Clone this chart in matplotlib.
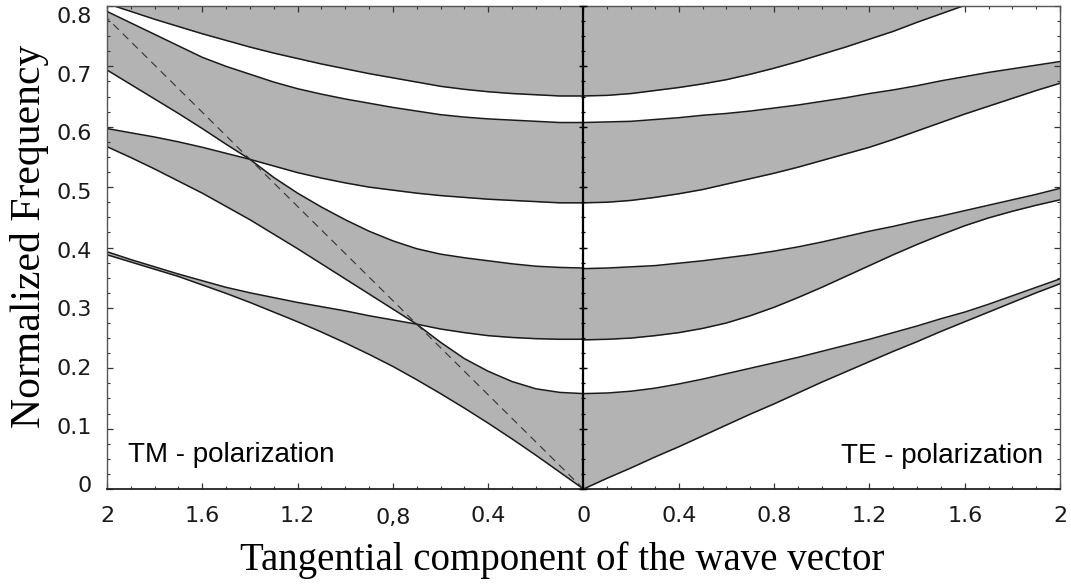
import matplotlib
matplotlib.use("Agg")

import matplotlib.pyplot as plt
import matplotlib.transforms as mtransforms
import numpy as np

# tangential wave vector, both polarizations read on the same grid
k = [0.0, 0.1, 0.2, 0.3, 0.4, 0.5, 0.6, 0.7, 0.8, 0.9, 1.0,
     1.1, 1.2, 1.3, 1.4, 1.5, 1.6, 1.7, 1.8, 1.9, 2.0]

# TM band edges (left half)
tm_a = [0.0, 0.028, 0.056, 0.083, 0.109, 0.134, 0.158, 0.181, 0.203, 0.223, 0.242,
        0.260, 0.277, 0.293, 0.309, 0.324, 0.338, 0.352, 0.364, 0.376, 0.388]
tm_b = [0.248, 0.248, 0.249, 0.251, 0.254, 0.259, 0.265, 0.273, 0.280, 0.287, 0.295,
        0.302, 0.309, 0.317, 0.325, 0.334, 0.345, 0.356, 0.368, 0.380, 0.393]
tm_c = [0.158, 0.160, 0.166, 0.178, 0.195, 0.216, 0.243, 0.273, 0.298, 0.323, 0.348,
        0.373, 0.398, 0.422, 0.446, 0.468, 0.490, 0.510, 0.530, 0.549, 0.567]
tm_g = [0.366, 0.367, 0.369, 0.373, 0.378, 0.383, 0.389, 0.398, 0.411, 0.427, 0.446,
        0.467, 0.490, 0.516, 0.546, 0.571, 0.597, 0.622, 0.646, 0.670, 0.694]
tm_d = [0.474, 0.474, 0.476, 0.478, 0.480, 0.483, 0.486, 0.490, 0.495, 0.500, 0.507,
        0.515, 0.524, 0.535, 0.546, 0.556, 0.566, 0.575, 0.583, 0.590, 0.597]
tm_f = [0.607, 0.607, 0.609, 0.611, 0.613, 0.616, 0.620, 0.626, 0.632, 0.639, 0.646,
        0.654, 0.663, 0.674, 0.687, 0.700, 0.715, 0.734, 0.753, 0.772, 0.791]
tm_e = [0.651, 0.651, 0.653, 0.655, 0.658, 0.662, 0.667, 0.674, 0.681, 0.688, 0.696,
        0.704, 0.713, 0.722, 0.732, 0.743, 0.754, 0.766, 0.778, 0.791, 0.804]

# TE band edges (right half)
te_a = [0.0, 0.018, 0.035, 0.053, 0.070, 0.088, 0.106, 0.124, 0.141, 0.159, 0.177,
        0.194, 0.211, 0.228, 0.244, 0.261, 0.277, 0.293, 0.309, 0.325, 0.340]
te_c = [0.158, 0.159, 0.162, 0.167, 0.174, 0.182, 0.191, 0.200, 0.209, 0.218, 0.228,
        0.238, 0.248, 0.259, 0.270, 0.282, 0.293, 0.306, 0.320, 0.334, 0.348]
te_b = [0.247, 0.248, 0.250, 0.254, 0.259, 0.266, 0.275, 0.287, 0.301, 0.317, 0.334,
        0.352, 0.370, 0.388, 0.405, 0.421, 0.436, 0.449, 0.460, 0.470, 0.479]
te_g = [0.365, 0.366, 0.368, 0.370, 0.374, 0.378, 0.383, 0.388, 0.394, 0.401, 0.409,
        0.418, 0.427, 0.435, 0.444, 0.452, 0.461, 0.470, 0.479, 0.488, 0.498]
te_d = [0.474, 0.475, 0.478, 0.483, 0.489, 0.496, 0.505, 0.514, 0.523, 0.533, 0.544,
        0.555, 0.566, 0.579, 0.593, 0.607, 0.621, 0.634, 0.647, 0.660, 0.672]
te_f = [0.607, 0.608, 0.609, 0.612, 0.615, 0.619, 0.622, 0.626, 0.631, 0.636, 0.642,
        0.648, 0.655, 0.661, 0.668, 0.676, 0.683, 0.690, 0.696, 0.702, 0.708]
te_e = [0.651, 0.652, 0.655, 0.660, 0.665, 0.671, 0.678, 0.687, 0.697, 0.708, 0.720,
        0.732, 0.745, 0.758, 0.773, 0.787, 0.801, 0.815, 0.830, 0.845, 0.860]

# Brewster line on the TM side
brewster_k = [0.0, 2.0]
brewster_w = [0.0, 0.78]

xtick_vals = [-2, -1.6, -1.2, -0.8, -0.4, 0, 0.4, 0.8, 1.2, 1.6, 2]
xtick_labels = ["2", "1.6", "1.2", "0,8", "0.4", "0", "0.4", "0.8", "1.2", "1.6", "2"]
ytick_vals = [0, 0.1, 0.2, 0.3, 0.4, 0.5, 0.6, 0.7, 0.8]
ytick_labels = ["0", "0.1", "0.2", "0.3", "0.4", "0.5", "0.6", "0.7", "0.8"]

GRAY = "#b3b3b3"
LINE = "#1a1a1a"

fig = plt.figure(figsize=(10.71, 5.84), dpi=100)
ax = fig.add_axes([107 / 1071, 95 / 584, 953 / 1071, 483 / 584])

kk = np.array(k)
xl = -kk
xr = kk

tm = {n: np.array(v) for n, v in
      dict(a=tm_a, b=tm_b, c=tm_c, g=tm_g, d=tm_d, f=tm_f, e=tm_e).items()}
te = {n: np.array(v) for n, v in
      dict(a=te_a, b=te_b, c=te_c, g=te_g, d=te_d, f=te_f, e=te_e).items()}

# TM bands (edges swap at the Brewster crossings)
ax.fill_between(xl, tm["a"], np.minimum(tm["b"], tm["c"]), color=GRAY, lw=0)
ax.fill_between(xl, np.maximum(tm["b"], tm["c"]), np.minimum(tm["g"], tm["d"]), color=GRAY, lw=0)
ax.fill_between(xl, np.maximum(tm["g"], tm["d"]), tm["f"], color=GRAY, lw=0)
ax.fill_between(xl, tm["e"], 0.9, color=GRAY, lw=0)

# TE bands
ax.fill_between(xr, te["a"], te["c"], color=GRAY, lw=0)
ax.fill_between(xr, te["b"], te["g"], color=GRAY, lw=0)
ax.fill_between(xr, te["d"], te["f"], color=GRAY, lw=0)
ax.fill_between(xr, te["e"], 0.9, color=GRAY, lw=0)

for n in "abcgdfe":
    ax.plot(xl, tm[n], color=LINE, lw=1.1, solid_joinstyle="round")
    ax.plot(xr, te[n], color=LINE, lw=1.1, solid_joinstyle="round")

ax.plot(-np.array(brewster_k), brewster_w, color="#333333", lw=0.8,
        linestyle=(0, (7, 5)))

# central k = 0 line with its own ticks
ax.axvline(0, color="black", lw=1.6, zorder=5)
yminor = np.arange(0, 0.8001, 0.025)
ymajor = np.array(ytick_vals)
ax.plot(np.zeros_like(yminor), yminor, ls="none", marker="_", ms=3.0,
        mew=0.9, color="black", zorder=6, clip_on=False)
ax.plot(np.zeros_like(ymajor), ymajor, ls="none", marker="_", ms=5.5,
        mew=1.0, color="black", zorder=6, clip_on=False)

ax.set_xlim(-2, 2)
ax.set_ylim(0, 0.8)

ax.set_xticks(xtick_vals)
ax.set_xticklabels(xtick_labels)
ax.set_xticks(np.arange(-2, 2.001, 0.1), minor=True)
ax.set_yticks(ytick_vals)
ax.set_yticklabels(ytick_labels)
ax.set_yticks(yminor, minor=True)

ax.tick_params(which="both", direction="in", top=True, right=True,
               color="#333333", labelsize=16)
ax.tick_params(which="major", length=4, width=0.9)
ax.tick_params(which="minor", length=2, width=0.8)
ax.tick_params(axis="x", pad=12)
ax.tick_params(axis="y", pad=11)

for lbl in ax.get_xticklabels() + ax.get_yticklabels():
    lbl.set_fontfamily("DejaVu Sans")
    lbl.set_color("#1a1a1a")

# the left "0,8" sits a little lower in the original
off = mtransforms.ScaledTranslation(0, -2 / 72, fig.dpi_scale_trans)
lbl08 = ax.get_xticklabels()[3]
lbl08.set_transform(lbl08.get_transform() + off)

# y labels in the original are squeezed slightly toward the middle
for val, lbl in zip(ytick_vals, ax.get_yticklabels()):
    dy = (3.5 - 12.5 * val) / 72
    lbl.set_transform(lbl.get_transform()
                      + mtransforms.ScaledTranslation(0, dy, fig.dpi_scale_trans))

for side in ["left", "top", "right"]:
    ax.spines[side].set_color("#555555")
    ax.spines[side].set_linewidth(1.0)
ax.spines["bottom"].set_color("#222222")
ax.spines["bottom"].set_linewidth(1.3)

ax.text(0.022, 0.056, "TM - polarization", transform=ax.transAxes,
        fontsize=20, family="Liberation Sans", ha="left", va="baseline")
ax.text(0.982, 0.054, "TE - polarization", transform=ax.transAxes,
        fontsize=20, family="Liberation Sans", ha="right", va="baseline")

fig.text(562 / 1071, 1 - 560 / 584, "Tangential component of the wave vector",
         fontsize=28, family="Liberation Serif", ha="center", va="center")
fig.text(30 / 1071, 1 - 236 / 584, "Normalized Frequency", rotation=90,
         fontsize=30, family="Liberation Serif", ha="center", va="center")

fig.savefig("out.png", dpi=100)
plt.close(fig)
